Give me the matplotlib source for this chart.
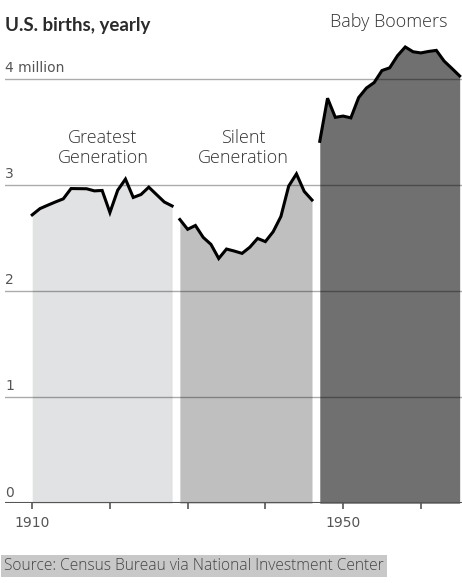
import numpy as np
import matplotlib.pyplot as plt

# births in millions, years as drawn on the chart
greatest_years = list(range(1910, 1929))
greatest_births = [2.718, 2.777, 2.809, 2.840, 2.869, 2.966, 2.965, 2.964, 2.944, 2.948,
                   2.740, 2.950, 3.055, 2.882, 2.910, 2.979, 2.909, 2.839, 2.802]
silent_years = list(range(1929, 1947))
silent_births = [2.674, 2.582, 2.618, 2.506, 2.440, 2.307, 2.396, 2.377, 2.355, 2.413,
                 2.496, 2.466, 2.559, 2.703, 2.989, 3.104, 2.939, 2.858]
boomer_years = list(range(1947, 1966))
boomer_births = [3.411, 3.817, 3.637, 3.649, 3.632, 3.823, 3.913, 3.965, 4.078, 4.104,
                 4.218, 4.300, 4.255, 4.244, 4.258, 4.268, 4.167, 4.098, 4.027]

y_ticks = [0, 1, 2, 3, 4]
y_labels = ['0', '1', '2', '3', '4 million']
x_ticks = [1910, 1920, 1930, 1940, 1950, 1960]
x_labels = ['1910', '', '', '', '1950', '']

W, H = 462, 583
fig = plt.figure(figsize=(W / 100, H / 100), dpi=100)
ax = fig.add_axes([5 / W, (H - 503.3) / H, 457 / W, (503.3 - 30) / H])
ax.set_xlim(1906.5, 1965.3)
ax.set_ylim(0, 4.46)

groups = [
    (greatest_years, greatest_births, '#e1e2e4'),
    (silent_years, silent_births, '#bfbfbf'),
    (boomer_years, boomer_births, '#707070'),
]
for yrs, vals, col in groups:
    ax.fill_between(yrs, 0, vals, color=col, lw=0, zorder=1)
    ax.plot(yrs, vals, color='black', lw=2.2, solid_joinstyle='miter', zorder=4)

# gridlines on top of the areas
for v in y_ticks[1:]:
    ax.axhline(v, color='black', alpha=0.33, lw=1, zorder=2)
ax.axhline(0, color='#555555', lw=1.5, zorder=3)

for v, lab in zip(y_ticks, y_labels):
    ax.text(1906.5, v + 0.035, lab, fontsize=10, color='#555555',
            family='Liberation Sans Narrow', ha='left', va='bottom')

ax.set_xticks(x_ticks)
ax.set_xticklabels(x_labels, fontsize=10, color='#555555', family='Liberation Sans Narrow')
ax.tick_params(axis='x', length=4.5, width=1.2, color='#555555', pad=4.5)
ax.set_yticks([])
for s in ax.spines.values():
    s.set_visible(False)

ax.text(1919.1, 3.35, 'Greatest\nGeneration', fontsize=13, color='#333333',
        ha='center', va='center', linespacing=1.17, family='Open Sans', fontweight='light')
ax.text(1937.1, 3.35, 'Silent\nGeneration', fontsize=13, color='#333333',
        ha='center', va='center', linespacing=1.17, family='Open Sans', fontweight='light')

fig.text(389 / W, 1 - 22 / H, 'Baby Boomers', fontsize=13, color='#333333',
         ha='center', va='center', family='Open Sans', fontweight='light')
fig.text(5 / W, 1 - 25 / H, 'U.S. births, yearly', fontsize=13.5, color='#2b2b2b',
         ha='left', va='center', fontweight='bold', family='Lato')
fig.text(4 / W, 1 - 566 / H, 'Source: Census Bureau via National Investment Center',
         fontsize=11.2, color='#444444', ha='left', va='center', family='Open Sans',
         fontweight='light',
         bbox=dict(facecolor='#c8c8c8', edgecolor='none', pad=2))

fig.savefig('out.png', dpi=100)
